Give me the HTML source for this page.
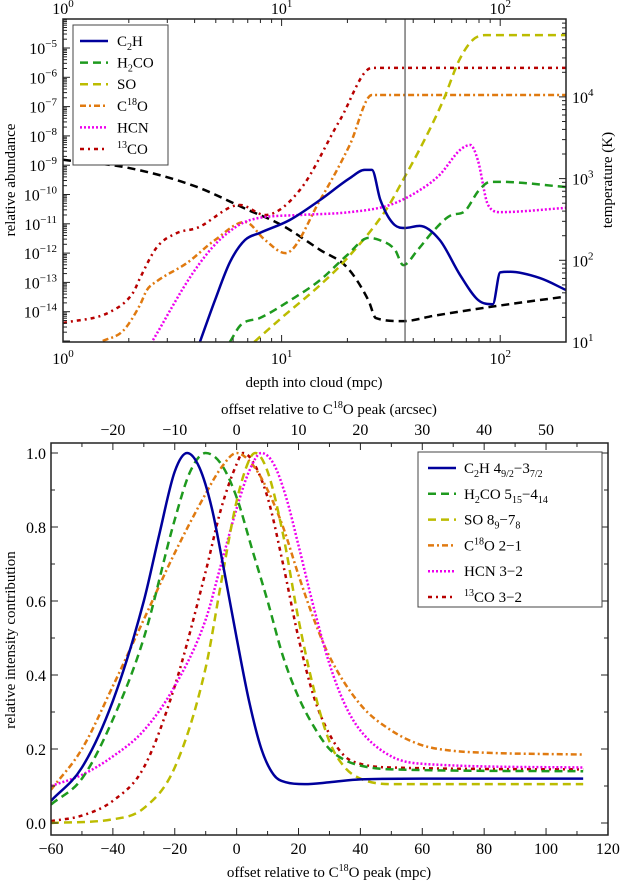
<!DOCTYPE html>
<html><head><meta charset="utf-8"><style>
body{margin:0;background:#fff;}
svg{display:block;font-family:"Liberation Serif",serif;}
</style></head><body>
<svg id="c" width="622" height="884" viewBox="0 0 622 884" xmlns="http://www.w3.org/2000/svg"></svg>
<script>
// ---- top panel data ----
const tempDepth=[1,2,4,7,10,15,20,25,27,36,50,100,200];
const tempK=[1700,1350,810,415,270,134,81,32,19.6,18,21,28,36];
const c2hDepth=[4.23,4.96,5.81,6.8,7.96,10.9,15,20.5,24,25.9,28.3,32.9,36.6,42.8,52.9,65.5,79.3,92.5,100,111,152,200];
const c2hAb=[9.3e-16,2.5e-14,5e-13,2.8e-12,4.9e-12,1.35e-11,6.5e-11,3.6e-10,6.9e-10,6.9e-10,6.5e-11,9.1e-12,7.2e-12,8.5e-12,2.8e-12,1.8e-13,2.5e-14,1.8e-14,2.2e-13,2.3e-13,1.4e-13,5.5e-14];
const h2coDepth=[5.8,6.5,8,11,15,20,25,28,33,36,42,50,60,68,80,90,100,200];
const h2coAb=[9.3e-16,3.5e-15,6.2e-15,2.5e-14,1.2e-13,8.7e-13,3.3e-12,2.8e-12,1.3e-12,3.9e-13,1.3e-12,6.2e-12,2e-11,2.5e-11,1.4e-10,2.7e-10,2.7e-10,1.8e-10];
const soDepth=[7.5,10,15,20,30,36,45,55,65,75,85,200];
const soAb=[9.3e-16,6.2e-15,8.1e-14,6.8e-13,2.95e-11,3.2e-10,7.2e-9,1.7e-7,3.9e-6,1.9e-5,2.75e-5,2.75e-5];
const c18oDepth=[1.52,1.88,2.25,2.42,2.69,3.69,4.96,6.8,8.4,10.4,15,20.5,25.9,200];
const c18oAb=[1e-15,2.2e-15,1.7e-14,5.5e-14,1.1e-13,4.6e-13,2.8e-12,1.15e-11,2.8e-12,1e-12,6.5e-11,4.9e-9,2.5e-7,2.5e-7];
const hcnDepth=[2.58,3.93,5.2,7.2,12.1,20.5,31.3,42.8,52.9,65.5,73,79,88,100,200];
const hcnAb=[1.07e-15,2.1e-13,2.8e-12,1.35e-11,2e-11,2.5e-11,4.4e-11,1.4e-10,4.7e-10,3.3e-9,4.9e-9,1.5e-9,4.4e-11,2.5e-11,3.5e-11];
const co13Depth=[1,1.64,2.09,2.25,2.69,3.33,4.1,6.45,8.4,12.1,18.5,25.9,200];
const co13Ab=[4.1e-15,9.8e-15,4.4e-14,1.4e-13,1.6e-12,4.9e-12,7.2e-12,4.4e-11,2e-11,1.4e-10,3.5e-8,2.1e-6,2.1e-6];
const depthTicks=[1,10,100];
const abTicks=[-14,-13,-12,-11,-10,-9,-8,-7,-6,-5];
const tTicks=[1,2,3,4];
const markerDepth=36.7;
// ---- bottom panel data ----
const offC2h=[-60,-50,-40,-30,-25,-20,-16,-12,-8,-4,0,4,8,12,16,22,30,40,60,112];
const valC2h=[0.06,0.15,0.33,0.6,0.78,0.95,1.0,0.96,0.85,0.68,0.5,0.33,0.2,0.13,0.11,0.105,0.11,0.118,0.12,0.12];
const offH2co=[-60,-50,-40,-30,-20,-15,-10,-5,0,5,10,15,20,25,30,35,40,50,112];
const valH2co=[0.05,0.12,0.28,0.5,0.82,0.95,1.0,0.97,0.88,0.74,0.6,0.45,0.34,0.26,0.2,0.17,0.155,0.145,0.14];
const offSo=[-60,-40,-30,-20,-10,-5,0,4,6,10,15,20,25,30,35,40,50,112];
const valSo=[0.0,0.01,0.04,0.15,0.42,0.65,0.87,0.98,1.0,0.95,0.78,0.55,0.36,0.22,0.15,0.12,0.105,0.105];
const offC18o=[-60,-50,-40,-30,-20,-10,-5,0,5,10,15,20,25,30,40,50,60,70,80,112];
const valC18o=[0.09,0.2,0.37,0.55,0.73,0.89,0.96,1.0,0.97,0.9,0.8,0.67,0.55,0.45,0.32,0.25,0.21,0.195,0.19,0.185];
const offHcn=[-60,-50,-40,-30,-20,-10,-5,0,4,8,12,16,20,25,30,35,40,50,60,112];
const valHcn=[0.1,0.13,0.18,0.25,0.37,0.55,0.7,0.85,0.95,1.0,0.97,0.88,0.75,0.58,0.43,0.32,0.25,0.18,0.16,0.15];
const off13co=[-60,-50,-40,-30,-20,-10,-5,0,2,5,10,15,20,25,30,35,40,50,112];
const val13co=[0.005,0.02,0.06,0.15,0.37,0.68,0.85,0.97,1.0,0.98,0.88,0.7,0.5,0.34,0.24,0.18,0.16,0.15,0.145];
const offTicks=[-60,-40,-20,0,20,40,60,80,100,120];
const arcTicks=[-20,-10,0,10,20,30,40,50];
const relTicks=[0,0.2,0.4,0.6,0.8,1.0];

const NS="http://www.w3.org/2000/svg";
const svg=document.getElementById('c');
function mk(tag,attrs,parent){const e=document.createElementNS(NS,tag);for(const k in attrs)e.setAttribute(k,attrs[k]);(parent||svg).appendChild(e);return e;}
function txt(x,y,html,size,anchor,parent,rot){const t=mk('text',{x:x,y:y,'font-size':size,'text-anchor':anchor||'middle',fill:'#000'},parent);if(rot)t.setAttribute('transform',`rotate(${rot} ${x} ${y})`);t.innerHTML=html;return t;}
// monotone cubic (Fritsch-Carlson) in pixel space
function smooth(p){const n=p.length;if(n<2)return '';const d=[],m=[];for(let i=0;i<n-1;i++)d.push((p[i+1][1]-p[i][1])/(p[i+1][0]-p[i][0]));m[0]=d[0];m[n-1]=d[n-2];for(let i=1;i<n-1;i++){m[i]=(d[i-1]*d[i]<=0)?0:(d[i-1]+d[i])/2;}
for(let i=0;i<n-1;i++){if(d[i]===0){m[i]=0;m[i+1]=0;continue;}const a=m[i]/d[i],b=m[i+1]/d[i],s=a*a+b*b;if(s>9){const t=3/Math.sqrt(s);m[i]=t*a*d[i];m[i+1]=t*b*d[i];}}
let s=`M${p[0][0]},${p[0][1]}`;for(let i=0;i<n-1;i++){const h=(p[i+1][0]-p[i][0])/3;s+=` C${p[i][0]+h},${p[i][1]+m[i]*h} ${p[i+1][0]-h},${p[i+1][1]-m[i+1]*h} ${p[i+1][0]},${p[i+1][1]}`;}return s;}

// top axes
const T={l:63,r:566,t:19,b:342};
const xT=v=>T.l+Math.log10(v)*218.6;
const yA=v=>48+(-5-Math.log10(v))*29.3;
const yTemp=v=>342-(Math.log10(v)-1)*81.7;
const cpTc=mk('clipPath',{id:'clipT'});mk('rect',{x:T.l,y:T.t,width:T.r-T.l,height:T.b-T.t},cpTc);
const gT=mk('g',{'clip-path':'url(#clipT)'});


const styles={
 c2h:{stroke:'#00009c',da:''},
 h2co:{stroke:'#1e9a1e',da:'8,5'},
 so:{stroke:'#bcbc00',da:'8,5'},
 c18o:{stroke:'#e07a10',da:'6,3,2,3'},
 hcn:{stroke:'#ee00ee',da:'2,2'},
 co13:{stroke:'#b80000',da:'4,4,2,4'}
};
function series(g,xs,ys,fx,fy,st,name){const pts=xs.map((v,i)=>[fx(v),fy(ys[i])]);const p=mk('path',{d:smooth(pts),fill:'none',stroke:st.stroke,'stroke-width':2.5,'stroke-dasharray':st.da},g);return p;}
series(gT,tempDepth,tempK,xT,yTemp,{stroke:'#000',da:'8,5'},'temperature-line');
series(gT,co13Depth,co13Ab,xT,yA,styles.co13,'line-13co');
series(gT,c18oDepth,c18oAb,xT,yA,styles.c18o,'line-c18o');
series(gT,hcnDepth,hcnAb,xT,yA,styles.hcn,'line-hcn');
series(gT,soDepth,soAb,xT,yA,styles.so,'line-so');
series(gT,h2coDepth,h2coAb,xT,yA,styles.h2co,'line-h2co');
series(gT,c2hDepth,c2hAb,xT,yA,styles.c2h,'line-c2h');
const vl=mk('line',{x1:xT(markerDepth),x2:xT(markerDepth),y1:T.t,y2:T.b,stroke:'#555','stroke-width':1.2});


const fT=mk('rect',{x:T.l,y:T.t,width:T.r-T.l,height:T.b-T.t,fill:'none',stroke:'#222','stroke-width':1.5});


for(let d=0;d<3;d++)for(let m=1;m<10;m++){const v=m*Math.pow(10,d);if(v>200)continue;const x=xT(v),L=m==1?7:4;mk('line',{x1:x,x2:x,y1:T.b,y2:T.b-L,stroke:'#222'});mk('line',{x1:x,x2:x,y1:T.t,y2:T.t+L,stroke:'#222'});}
depthTicks.forEach(v=>{const e=Math.round(Math.log10(v));let t=txt(xT(v),T.b+22,`10<tspan dy="-7" font-size="11">${e}</tspan>`,16);t=txt(xT(v),T.t-5,`10<tspan dy="-7" font-size="11">${e}</tspan>`,16);});
for(let e=-15;e<=-5;e++)for(let m=1;m<10;m++){const v=m*Math.pow(10,e);const y=yA(v);if(y<T.t||y>T.b)continue;mk('line',{x1:T.l,x2:T.l+(m==1?7:4),y1:y,y2:y,stroke:'#222'});}
abTicks.forEach(e=>{const t=txt(T.l-6,yA(Math.pow(10,e))+6,`10<tspan dy="-7" font-size="11">−${-e}</tspan>`,16,'end');});
for(let e=1;e<=4;e++)for(let m=1;m<10;m++){const v=m*Math.pow(10,e);const y=yTemp(v);if(y<T.t||y>T.b)continue;mk('line',{x1:T.r,x2:T.r-(m==1?7:4),y1:y,y2:y,stroke:'#222'});}
tTicks.forEach(e=>{const t=txt(T.r+6,yTemp(Math.pow(10,e))+6,`10<tspan dy="-7" font-size="11">${e}</tspan>`,16,'start');});
let lab=txt(314,387,'depth into cloud (mpc)',15);
lab=txt(15,180,'relative abundance',15,'middle',null,-90);
lab=txt(612,180,'temperature (K)',15,'middle',null,-90);
const lgT=mk('g',{});


mk('rect',{x:73,y:25,width:95,height:140,fill:'#fff',stroke:'#444','stroke-width':1},lgT);
const topNames=['C<tspan dy="4" font-size="10">2</tspan><tspan dy="-4">H</tspan>','H<tspan dy="4" font-size="10">2</tspan><tspan dy="-4">CO</tspan>','SO','C<tspan dy="-6" font-size="10">18</tspan><tspan dy="6">O</tspan>','HCN','<tspan dy="-6" font-size="10">13</tspan><tspan dy="6">CO</tspan>'];
const keys=['c2h','h2co','so','c18o','hcn','co13'];
keys.forEach((k,i)=>{const y=41+i*21.6;const g=mk('g',{},lgT);mk('line',{x1:80,x2:108,y1:y,y2:y,stroke:styles[k].stroke,'stroke-width':2.5,'stroke-dasharray':styles[k].da},g);txt(117,y+5,topNames[i],15,'start',g);});

// bottom axes
const B={l:51,r:608,t:443,b:835};
const xB=v=>B.l+(v+60)*3.094;
const yB=v=>823-v*370;
const cpB=mk('clipPath',{id:'clipB'});mk('rect',{x:B.l,y:B.t,width:B.r-B.l,height:B.b-B.t},cpB);
const gB=mk('g',{'clip-path':'url(#clipB)'});


series(gB,off13co,val13co,xB,yB,styles.co13,'profile-13co');
series(gB,offC18o,valC18o,xB,yB,styles.c18o,'profile-c18o');
series(gB,offHcn,valHcn,xB,yB,styles.hcn,'profile-hcn');
series(gB,offSo,valSo,xB,yB,styles.so,'profile-so');
series(gB,offH2co,valH2co,xB,yB,styles.h2co,'profile-h2co');
series(gB,offC2h,valC2h,xB,yB,styles.c2h,'profile-c2h');
const fB=mk('rect',{x:B.l,y:B.t,width:B.r-B.l,height:B.b-B.t,fill:'none',stroke:'#222','stroke-width':1.5});


for(let v=-60;v<=120;v+=10){const x=xB(v),L=v%20==0?7:4;mk('line',{x1:x,x2:x,y1:B.b,y2:B.b-L,stroke:'#222'});}
offTicks.forEach(v=>{const t=txt(xB(v),B.b+19,v<0?'−'+(-v):''+v,16);});
for(let a=-25;a<=55;a+=5){const x=xB(a*2),L=a%10==0?7:4;mk('line',{x1:x,x2:x,y1:B.t,y2:B.t+L,stroke:'#222'});}
arcTicks.forEach(a=>{const t=txt(xB(a*2),B.t-8,a<0?'−'+(-a):''+a,16);});
for(let v=0;v<=1.001;v+=0.1){const y=yB(v),L=Math.round(v*10)%2==0?7:4;mk('line',{x1:B.l,x2:B.l+L,y1:y,y2:y,stroke:'#222'});mk('line',{x1:B.r,x2:B.r-L,y1:y,y2:y,stroke:'#222'});}
relTicks.forEach(v=>{const t=txt(B.l-5,yB(v)+6,v.toFixed(1),16,'end');});
lab=txt(329,877,'offset relative to C<tspan dy="-6" font-size="10">18</tspan><tspan dy="6">O peak (mpc)</tspan>',15);
lab=txt(329,414,'offset relative to C<tspan dy="-6" font-size="10">18</tspan><tspan dy="6">O peak (arcsec)</tspan>',15);
lab=txt(15,640,'relative intensity contribution',15,'middle',null,-90);
const lgB=mk('g',{});


mk('rect',{x:418,y:452,width:184,height:155,fill:'#fff',stroke:'#444','stroke-width':1},lgB);
const botNames=[
'C<tspan dy="4" font-size="10">2</tspan><tspan dy="-4">H 4</tspan><tspan dy="4" font-size="10">9/2</tspan><tspan dy="-4">−3</tspan><tspan dy="4" font-size="10">7/2</tspan>',
'H<tspan dy="4" font-size="10">2</tspan><tspan dy="-4">CO 5</tspan><tspan dy="4" font-size="10">15</tspan><tspan dy="-4">−4</tspan><tspan dy="4" font-size="10">14</tspan>',
'SO 8<tspan dy="4" font-size="10">9</tspan><tspan dy="-4">−7</tspan><tspan dy="4" font-size="10">8</tspan>',
'C<tspan dy="-6" font-size="10">18</tspan><tspan dy="6">O 2−1</tspan>',
'HCN 3−2',
'<tspan dy="-6" font-size="10">13</tspan><tspan dy="6">CO 3−2</tspan>'];
keys.forEach((k,i)=>{const y=468+i*25.8;const g=mk('g',{},lgB);mk('line',{x1:428,x2:456,y1:y,y2:y,stroke:styles[k].stroke,'stroke-width':2.5,'stroke-dasharray':styles[k].da},g);txt(464,y+5,botNames[i],15,'start',g);});
</script>
</body></html>
